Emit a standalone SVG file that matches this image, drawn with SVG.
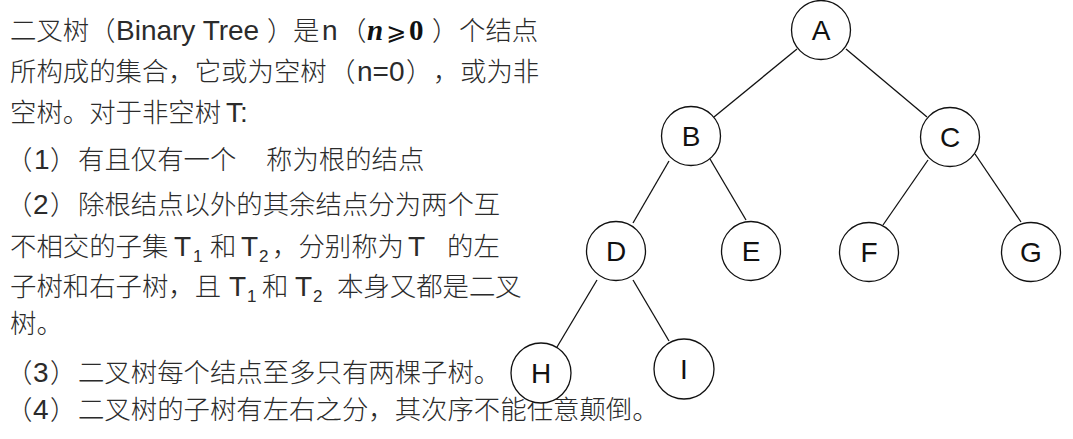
<svg xmlns="http://www.w3.org/2000/svg" width="1073" height="439" viewBox="0 0 1073 439">
<style>
.t{font-family:"Noto Sans CJK SC","Noto Sans CJK JP",sans-serif;font-size:26.4px;font-weight:300;fill:#2b2b2b;}
.l{font-family:"Liberation Sans",Arial,sans-serif;font-size:28px;fill:#2b2b2b;}
.s{font-family:"Liberation Sans",Arial,sans-serif;font-size:17px;fill:#2b2b2b;}
.m{font-family:"Liberation Serif","Times New Roman",serif;font-size:29px;font-weight:bold;fill:#111;}
.g{font-family:"DejaVu Serif","DejaVu Sans",serif;font-size:24px;fill:#111;}
.node circle{fill:#fff;stroke:#111;stroke-width:1.3;}
.node text{font-family:"Liberation Sans",Arial,sans-serif;font-size:28px;fill:#111;text-anchor:middle;}
#edges line{stroke:#111;stroke-width:1.3;}
</style>
<rect width="1073" height="439" fill="#fff"/>
<g id="text">
<text y="40"><tspan class="t" x="10">二叉树</tspan><tspan class="t" x="89">（</tspan><tspan class="l" x="116" font-size="29">Binary Tree</tspan><tspan class="t" x="267">）</tspan><tspan class="t" x="293">是</tspan><tspan class="l" x="322">n</tspan><tspan class="t" x="340">（</tspan><tspan class="m" x="367" font-style="italic">n</tspan><tspan class="g" x="386">⩾</tspan><tspan class="m" x="409">0</tspan><tspan class="t" x="432">）</tspan><tspan class="t" x="459">个结点</tspan></text>
<text y="81"><tspan class="t" x="10">所构成的集合，它或为空树</tspan><tspan class="t" x="329">（</tspan><tspan class="l" x="357">n=0</tspan><tspan class="t" x="406">）</tspan><tspan class="t" x="433">，</tspan><tspan class="t" x="460">或为非</tspan></text>
<text y="122"><tspan class="t" x="10">空树。对于非空树</tspan><tspan class="l" x="226">T:</tspan></text>
<text y="169"><tspan class="t" x="6">（</tspan><tspan class="l" x="34">1</tspan><tspan class="t" x="50">）</tspan><tspan class="t" x="78">有且仅有一个</tspan><tspan class="t" x="266">称为根的结点</tspan></text>
<text y="214"><tspan class="t" x="6">（</tspan><tspan class="l" x="33">2</tspan><tspan class="t" x="50">）</tspan><tspan class="t" x="78">除根结点以外的其余结点分为两个互</tspan></text>
<text y="256"><tspan class="t" x="10">不相交的子集</tspan><tspan class="l" x="174">T</tspan><tspan class="s" x="193" dy="6">1</tspan><tspan class="t" x="210" dy="-6">和</tspan><tspan class="l" x="241">T</tspan><tspan class="s" x="259" dy="6">2</tspan><tspan class="t" x="272" dy="-6">，分别称为</tspan><tspan class="l" x="408">T</tspan><tspan class="t" x="447">的左</tspan></text>
<text y="296"><tspan class="t" x="10">子树和右子树，且</tspan><tspan class="l" x="229">T</tspan><tspan class="s" x="247" dy="6">1</tspan><tspan class="t" x="262" dy="-6">和</tspan><tspan class="l" x="295">T</tspan><tspan class="s" x="313" dy="6">2</tspan><tspan class="t" x="337" dy="-6">本身又都是二叉</tspan></text>
<text y="333"><tspan class="t" x="10">树。</tspan></text>
<text y="382"><tspan class="t" x="6">（</tspan><tspan class="l" x="33">3</tspan><tspan class="t" x="50">）</tspan><tspan class="t" x="78">二叉树每个结点至多只有两棵子树。</tspan></text>
<text y="419"><tspan class="t" x="6">（</tspan><tspan class="l" x="33">4</tspan><tspan class="t" x="50">）</tspan><tspan class="t" x="78">二叉树的子树有左右之分，其次序不能任意颠倒。</tspan></text>
</g>
<g id="edges">
<line x1="797" y1="49" x2="714" y2="117"/>
<line x1="846" y1="49" x2="927" y2="117"/>
<line x1="669" y1="161" x2="633" y2="223"/>
<line x1="710" y1="159" x2="746" y2="220"/>
<line x1="928" y1="160" x2="883" y2="225"/>
<line x1="975" y1="154" x2="1021" y2="222"/>
<line x1="597" y1="280" x2="557" y2="347"/>
<line x1="633" y1="280" x2="669" y2="341"/>
</g>
<g id="node-A" class="node"><circle cx="821" cy="30" r="29.5"/><text x="821" y="40">A</text></g>
<g id="node-B" class="node"><circle cx="691" cy="136" r="29.5"/><text x="691" y="146">B</text></g>
<g id="node-C" class="node"><circle cx="950" cy="137" r="29.5"/><text x="950" y="147">C</text></g>
<g id="node-D" class="node"><circle cx="616" cy="251" r="29.5"/><text x="616" y="261">D</text></g>
<g id="node-E" class="node"><circle cx="751" cy="251" r="29.5"/><text x="751" y="261">E</text></g>
<g id="node-F" class="node"><circle cx="869" cy="252" r="29.5"/><text x="869" y="262">F</text></g>
<g id="node-G" class="node"><circle cx="1031" cy="252" r="29.5"/><text x="1031" y="262">G</text></g>
<g id="node-H" class="node"><circle cx="541" cy="373" r="30"/><text x="541" y="383">H</text></g>
<g id="node-I" class="node"><circle cx="684" cy="369" r="30"/><text x="684" y="379">I</text></g>
</svg>
